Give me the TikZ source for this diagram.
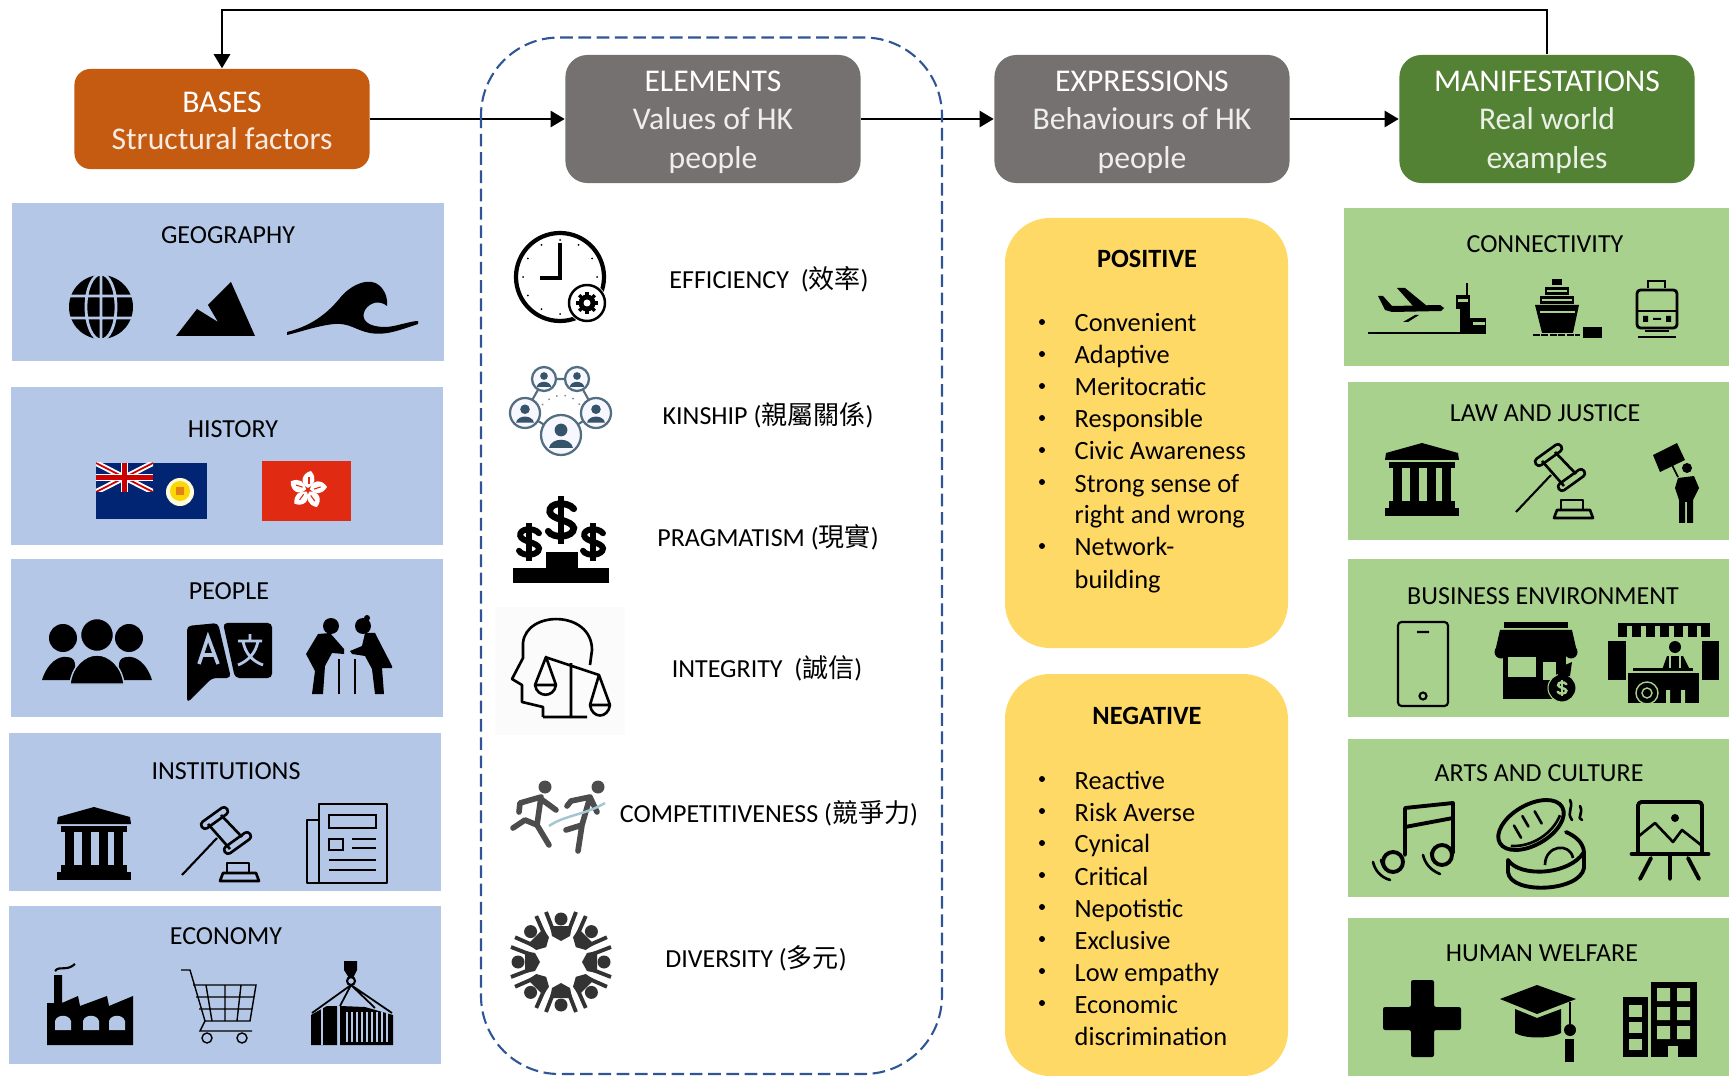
\documentclass[tikz,border=0pt]{standalone}
\usepackage{fontspec}
\setmainfont{Carlito}
\newfontfamily\cjk{Noto Sans CJK TC}
\usetikzlibrary{arrows.meta}
\definecolor{basesorange}{HTML}{C55A11}
\definecolor{headgray}{HTML}{767171}
\definecolor{headgreen}{HTML}{548235}
\definecolor{boxblue}{HTML}{B4C7E7}
\definecolor{boxgreen}{HTML}{A9D18E}
\definecolor{boxyellow}{HTML}{FFD966}
\definecolor{dashblue}{HTML}{2F5597}
\definecolor{kinblue}{HTML}{35546A}
\definecolor{hkred}{HTML}{E02B12}
\definecolor{flagnavy}{HTML}{012572}
\begin{document}
\begin{tikzpicture}[x=0.01cm,y=-0.01cm,>={Triangle[length=4pt,width=4.6pt]}]
\tikzstyle{headbox} = [rounded corners=0.22cm,text=white,align=center,inner sep=0pt,minimum height=1.28cm,minimum width=2.95cm,font=\fontsize{9}{11}\selectfont]
\tikzstyle{connect} = [arrows=->,line width=0.65pt,black]
\tikzstyle{boxlabel} = [inner sep=0pt,font=\fontsize{7.4}{9}\selectfont]
\tikzstyle{itemlabel} = [inner sep=0pt,anchor=base west,font=\fontsize{7.5}{9}\selectfont]
\tikzstyle{toplabel} = [inner sep=0pt,font=\bfseries\fontsize{7.5}{9}\selectfont]
\tikzstyle{thinline} = [line width=0.4pt,black]
\tikzstyle{iconline} = [line width=0.75pt,black,line join=round]
\tikzstyle{thickline} = [line width=1.1pt,black,line join=round,line cap=round]
\useasboundingbox (0,0) rectangle (1729,1076);
\def\bankicon#1#2{
  \begin{scope}[shift={(#1,#2)}]
    \fill (1,10) -- (37,0) -- (73,10) -- (74,17) -- (0,17) -- cycle;
    \fill (4,19) rectangle (70,25);
    \foreach \x in {8,25,42,57}
      \fill (\x,25) rectangle (\x+8.5,58);
    \fill (4,58) rectangle (70,65);
    \fill (0,65) rectangle (74,73);
  \end{scope}}
\def\gavelicon#1#2{
  \begin{scope}[shift={(#1,#2)}]
    \draw[iconline,rounded corners=1pt] (23.3,22.2) -- (48.3,4.2) -- (43.7,-2.2) -- (18.7,15.8) -- cycle;
    \draw[iconline,rounded corners=1pt] (46.3,47.2) -- (71.3,29.2) -- (66.7,22.8) -- (41.7,40.8) -- cycle;
    \draw[iconline] (40,7) -- (61,29) (27,16) -- (49,41);
    \draw[line width=0.6pt] (1,67) -- (36,30);
    \draw[iconline] (39,73) -- (42,65) -- (75,65) -- (78,73) -- cycle;
    \draw[iconline] (46,65) -- (46,55) -- (68,55) -- (68,65);
  \end{scope}}
\def\dollaricon#1#2#3#4#5{
  \begin{scope}[shift={(#1,#2)},scale=#3]
    \draw[line width=#4,#5,line cap=round] (8,-7) .. controls (4,-12) and (-8,-11) .. (-7,-5) .. controls (-6,0) and (7,0) .. (8,5) .. controls (8,11) and (-5,12) .. (-8,7);
    \draw[line width=#4,#5] (0,-15) -- (0,15);
  \end{scope}}
\def\kinperson#1#2#3{
  \draw[line width=0.65pt,kinblue!85,fill=blue!3] (#1,#2) circle (#3);
  \fill[kinblue] (#1,#2-0.25*#3) circle (0.32*#3);
  \fill[kinblue] (#1-0.6*#3,#2+0.65*#3) .. controls (#1-0.5*#3,#2+0.1*#3) and (#1+0.5*#3,#2+0.1*#3) .. (#1+0.6*#3,#2+0.65*#3) -- cycle;
}
\def\firstline{\rule{0pt}{7.7pt}}
  %head boxes
  \node[headbox,fill=basesorange,minimum height=1cm,rounded corners=0.16cm] (bases) at (222,119) {\rule{0pt}{6.9pt}BASES\\[-0.6pt]{\color{white!88!basesorange}Structural factors}};
  \node[headbox,fill=headgray] (elements) at (713,119) {\firstline ELEMENTS\\{\color{white!88!headgray}Values of HK}\\{\color{white!88!headgray}people}};
  \node[headbox,fill=headgray] (expressions) at (1142,119) {\firstline EXPRESSIONS\\{\color{white!88!headgray}Behaviours of HK}\\{\color{white!88!headgray}people}};
  \node[headbox,fill=headgreen] (manifestations) at (1547,119) {\firstline MANIFESTATIONS\\{\color{white!88!headgreen}Real world}\\{\color{white!88!headgreen}examples}};
  %arrows
  \coordinate (looptop) at (222,10);
  \draw[connect] (bases) -- (elements);
  \draw[connect] (elements) -- (expressions);
  \draw[connect] (expressions) -- (manifestations);
  \draw[connect] (manifestations.north) |- (looptop) -- (bases.north);
  %dashed box
  \draw[dashblue,line width=0.6pt,rounded corners=0.78cm,dash pattern={on 3.6pt off 1.6pt}] (481,37.5) rectangle (942,1074);
  %blue boxes
  \fill[boxblue] (12,203) rectangle (444,361);
  \fill[boxblue] (11,387) rectangle (443,545);
  \fill[boxblue] (11,559) rectangle (443,717);
  \fill[boxblue] (9,733) rectangle (441,891);
  \fill[boxblue] (9,906) rectangle (441,1064);
  \node[boxlabel] (geography) at (228,235) {GEOGRAPHY};
  \node[boxlabel] (history) at (233,429) {HISTORY};
  \node[boxlabel] (people) at (229,591) {PEOPLE};
  \node[boxlabel] (institutions) at (226,771) {INSTITUTIONS};
  \node[boxlabel] (economy) at (226,936) {ECONOMY};
  %green boxes
  \fill[boxgreen] (1344,208) rectangle (1729,366);
  \fill[boxgreen] (1348,382) rectangle (1729,540);
  \fill[boxgreen] (1348,559) rectangle (1729,717);
  \fill[boxgreen] (1348,739) rectangle (1729,897);
  \fill[boxgreen] (1348,918) rectangle (1729,1076);
  \node[boxlabel] (connectivity) at (1545,244.5) {CONNECTIVITY};
  \node[boxlabel] (lawjustice) at (1545,413.5) {LAW AND JUSTICE};
  \node[boxlabel] (business) at (1543,596.5) {BUSINESS ENVIRONMENT};
  \node[boxlabel] (arts) at (1539,773.5) {ARTS AND CULTURE};
  \node[boxlabel] (welfare) at (1542,953.5) {HUMAN WELFARE};
  %yellow boxes
  \fill[boxyellow,rounded corners=0.45cm] (1005,218) rectangle (1288,648);
  \fill[boxyellow,rounded corners=0.45cm] (1005,674) rectangle (1288,1076);
  \node[toplabel] (positive) at (1147,259) {POSITIVE};
  \node[toplabel] (negative) at (1147,716) {NEGATIVE};
  \foreach \y/\t in {323/Convenient,355/Adaptive,387/Meritocratic,419/Responsible,451/Civic Awareness,483/Strong sense of,515/right and wrong,547/Network-,579/building}
    \node[itemlabel] (pos\y) at (1074,\y+9) {\t};
  \foreach \y in {323,355,387,419,451,483,547}
    \fill (1042,\y-1) circle (3);
  \foreach \y/\t in {780/Reactive,812/Risk Averse,844/Cynical,876/Critical,908/Nepotistic,940/Exclusive,972/Low empathy,1004/Economic,1036/discrimination}
    \node[itemlabel] (neg\y) at (1074,\y+9) {\t};
  \foreach \y in {780,812,844,876,908,940,972,1004}
    \fill (1042,\y-1) circle (3);
  %element labels
  \node[boxlabel] (efficiency) at (769,279) {EFFICIENCY\ \ ({\cjk 效率})};
  \node[boxlabel] (kinship) at (768,415) {KINSHIP ({\cjk 親屬關係})};
  \node[boxlabel] (pragmatism) at (768,537) {PRAGMATISM ({\cjk 現實})};
  \node[boxlabel] (integrity) at (767,668) {INTEGRITY\ \ ({\cjk 誠信})};
  \node[boxlabel] (competitive) at (769,813) {COMPETITIVENESS ({\cjk 競爭力})};
  \node[boxlabel] (diversity) at (756,958) {DIVERSITY ({\cjk 多元})};
    %globe
    \fill (101,307) circle (32);
    \draw[boxblue,line width=0.8pt] (101,307) ellipse (15 and 33) (101,274) -- (101,340) (68,296) -- (134,296) (68,318) -- (134,318);
    %mountain
    \fill (176,336) -- (197,309) -- (218,322) -- (208,305) -- (231,282) -- (255,336) -- cycle;
    %wave
    \fill (287,332) .. controls (315,325) and (330,310) .. (340,298) .. controls (350,285) and (370,276) .. (380,286) .. controls (386,292) and (388,300) .. (387,306) .. controls (380,300) and (370,302) .. (365,310) .. controls (360,320) and (368,327) .. (385,327) .. controls (395,327) and (410,321) .. (418,321) -- (418,324) .. controls (400,330) and (385,336) .. (370,333) .. controls (355,330) and (350,323) .. (335,324) .. controls (320,325) and (300,332) .. (287,335) -- cycle;
    %colonial flag
    \fill[flagnavy] (96,463) rectangle (207,519);
    \begin{scope}
      \clip (96,463) rectangle (153,492);
      \draw[white,line width=1.6pt] (96,463) -- (153,492) (96,492) -- (153,463);
      \draw[red!80!black,line width=0.5pt] (96,463) -- (153,492) (96,492) -- (153,463);
      \draw[white,line width=2.2pt] (124.5,463) -- (124.5,492) (96,477.5) -- (153,477.5);
      \draw[red!80!black,line width=1.3pt] (124.5,463) -- (124.5,492) (96,477.5) -- (153,477.5);
    \end{scope}
    \fill[white!85!yellow] (180,492) circle (14);
    \fill[yellow!75!orange] (180,491) circle (10);
    \fill[orange!60!brown] (176,487) rectangle (184,495);
    %hong kong flag
    \fill[hkred] (262,461) rectangle (351,521);
    \foreach \a in {0,72,144,216,288} {
      \begin{scope}[shift={(308,490)},rotate=\a]
        \fill[white] (0,-2) .. controls (-9,-7) and (-6,-17) .. (3,-19) .. controls (9,-12) and (7,-6) .. (0,-2);
        \draw[hkred,line width=0.3pt] (1,-6) -- (1,-13);
      \end{scope}
    }
    \begin{scope}[shift={(0,1)}]
    %people group
    \fill (63,637) circle (14);
    \fill (129,637) circle (14);
    \fill (42,679) .. controls (48,660) and (60,655) .. (66,656) .. controls (75,656) and (78,662) .. (72,679) -- cycle;
    \fill (152,679) .. controls (146,660) and (134,655) .. (128,656) .. controls (119,656) and (116,662) .. (122,679) -- cycle;
    \fill[draw=boxblue,line width=0.4pt] (70,683) .. controls (72,665) and (85,654) .. (97,654) .. controls (109,654) and (122,665) .. (124,683) -- cycle;
    \fill[draw=boxblue,line width=0.4pt] (97,634) circle (16.5);
    %translate bubble
    \fill[rounded corners=1.2pt] (187,702) -- (187,625) -- (218,622) -- (231,677) -- (212,677) -- cycle;
    \fill[rounded corners=1.2pt] (223,622) -- (272,622) -- (272,677) -- (235,677) -- cycle;
    \draw[boxblue,line width=1pt] (199,663) -- (208,636) -- (218,663) (203,654) -- (214,654);
    \draw[boxblue,line width=0.8pt] (238,640) -- (262,640) (250,633) -- (250,640) (243,640) .. controls (245,652) and (252,660) .. (263,664) (258,640) .. controls (256,652) and (248,660) .. (238,664);
    %elderly couple
    \fill (331,625) circle (8);
    \fill (363,625) circle (8);
    \fill (367,617) circle (3);
    \fill (318,633) -- (330,632) -- (344,648) -- (344,653) -- (332,652) -- (325,665) -- (323,693) -- (312,693) -- (315,670) -- (306,653) -- cycle;
    \fill (365,632) -- (375,632) -- (392,665) -- (392,667) -- (382,667) -- (384,693) -- (375,693) -- (372,668) -- (365,655) -- (352,653) -- (350,650) -- (362,645) -- cycle;
    \draw[line width=0.5pt] (339,658) -- (339,693) (355,658) -- (355,693);
    \end{scope}
    \begin{scope}[shift={(0,2)}]
    %institutions
    \bankicon{57}{805}
    \gavelicon{181}{806}
    %newspaper
    \draw[line width=0.8pt,line join=round] (319,802) rectangle (387,881);
    \draw[line width=0.7pt,line join=round] (319,818) -- (307,818) -- (307,881) -- (319,881);
    \draw[line width=0.8pt] (329,813) rectangle (376,826) (329,837) rectangle (343,848);
    \draw[line width=0.7pt] (352,837) -- (376,837) (352,846) -- (376,846) (329,858) -- (376,858) (329,868) -- (376,868);
    \end{scope}
    \begin{scope}[shift={(0,3)}]
    %factory
    \fill (47,1042) -- (47,1000) -- (54,1000) -- (54,972) -- (62,972) -- (62,1000) -- (78,993) -- (80,1003) -- (107,993) -- (109,1003) -- (133,993) -- (133,1042) -- cycle;
    \draw[line width=0.6pt] (55,968) .. controls (60,962) and (66,969) .. (75,961);
    \foreach \x in {63,91,117}
      \fill[boxblue] (\x-8,1027) -- (\x-8,1018) .. controls (\x-6,1011) and (\x+6,1011) .. (\x+8,1018) -- (\x+8,1027) -- cycle;
    %cart
    \draw[thinline] (181,967) -- (190,967) -- (205,1018) -- (200,1028) -- (252,1028);
    \draw[thinline] (193,982) -- (256,982) -- (250,1018) -- (205,1018);
    \draw[thinline] (196,994) -- (254,994) (199,1006) -- (252,1006) (206,982) -- (212,1018) (225,982) -- (225,1018) (241,982) -- (237,1018);
    \draw[thinline] (207,1035) circle (5) (242,1035) circle (5);
    %container
    \fill (344,958) -- (357,958) -- (357,967) -- (353,975) -- (349,975) -- (344,967) -- cycle;
    \draw[line width=0.6pt] (351,978) circle (4);
    \draw[line width=0.5pt] (351,982) -- (312,1010) (351,982) -- (392,1010) (351,982) -- (340,1003) (351,982) -- (375,1005);
    \fill (311,1012) -- (327,1003) -- (337,1003) -- (337,1042) -- (311,1042) -- cycle;
    \fill (340,1003) -- (365,1004) -- (393,1012) -- (393,1042) -- (340,1042) -- cycle;
    \draw[boxblue,line width=0.3pt] (322,1005) -- (322,1042);
    \foreach \x in {347,352,...,389}
      \draw[boxblue,line width=0.35pt] (\x,1009) -- (\x,1039);
    \end{scope}
    %plane and tower
    \fill (1378,296) -- (1383,296) -- (1392,306) -- (1440,305) -- (1444,308) -- (1441,311) -- (1392,312) -- (1385,310) -- cycle;
    \fill (1397,288) -- (1405,288) -- (1427,306) -- (1413,306) -- cycle;
    \fill (1403,322) -- (1415,315) -- (1419,315) -- (1408,322) -- cycle;
    \draw[line width=0.5pt] (1368,333) -- (1460,333) (1467,283) -- (1467,296);
    \fill (1456,295) rectangle (1470,309);
    \fill (1460,309) rectangle (1470,318);
    \fill (1460,318) rectangle (1486,334);
    \fill[boxgreen] (1473,322) rectangle (1485,325);
    \fill[boxgreen] (1458,299) rectangle (1468,302);
    %ship
    \fill (1552,279) rectangle (1562,285);
    \fill (1545,287) rectangle (1569,295);
    \fill (1540,296) rectangle (1574,304);
    \fill (1535,305) -- (1579,305) -- (1573,333) -- (1542,333) -- cycle;
    \draw[boxgreen,line width=0.3pt] (1540,312) -- (1575,312) (1547,291) -- (1567,291) (1542,300) -- (1572,300);
    \draw[line width=0.8pt,dash pattern={on 2pt off 0.4pt}] (1533,335) -- (1580,335);
    \fill (1583,327) rectangle (1602,338);
    %train
    \draw[line width=0.8pt,rounded corners=1pt] (1637,290) rectangle (1677,328);
    \draw[line width=0.7pt] (1648,288) -- (1648,281) -- (1665,281) -- (1665,288);
    \draw[line width=0.5pt] (1637,311) -- (1677,311);
    \fill (1643,316) rectangle (1648,322) (1666,316) rectangle (1671,322) (1653,318) rectangle (1661,320);
    \draw[line width=0.7pt] (1645,331) -- (1669,331) (1638,337) -- (1676,337);
    %law and justice
    \bankicon{1385}{443}
    \gavelicon{1515}{445}
    %protester
    \fill (1653,455) -- (1677,443) -- (1685,460) -- (1660,472) -- cycle;
    \draw[line width=0.5pt] (1672,465) -- (1678,477);
    \fill (1687,468) circle (5);
    \fill (1678,478) -- (1694,476) -- (1699,488) -- (1693,500) -- (1693,523) -- (1687,523) -- (1687,502) -- (1685,502) -- (1685,523) -- (1679,523) -- (1679,500) -- (1675,488) -- cycle;
    %phone
    \draw[line width=0.6pt,rounded corners=1pt] (1398,622) rectangle (1448,706);
    \draw[line width=0.6pt] (1417,632) -- (1429,632) (1423,696) circle (3.5);
    %shop
    \fill (1504,622) rectangle (1568,628);
    \fill (1500,630) -- (1572,630) -- (1577,652) -- (1495,652) -- cycle;
    \foreach \x in {1501,1513,1525,1537,1549,1561,1571}
      \fill (\x,652) circle (6.5);
    \fill (1503,655) rectangle (1566,699);
    \fill[boxgreen] (1508,657) rectangle (1536,677);
    \fill[boxgreen] (1543,662) rectangle (1556,680);
    \fill[draw=boxgreen,line width=0.3pt] (1562,688) circle (14);
    \fill (1558,676) -- (1558,668) -- (1572,662) -- (1570,676) -- cycle;
    \dollaricon{1562}{688}{0.55}{0.7pt}{boxgreen}
    %stall
    \foreach \x in {1618,1632,1646,1660,1674,1688,1701}
      \fill (\x,623) rectangle (\x+9,637);
    \fill (1618,623) rectangle (1710,626);
    \fill (1608,641) rectangle (1626,680);
    \fill (1702,641) rectangle (1719,680);
    \fill (1675,647) circle (6);
    \fill (1662,670) -- (1667,656) -- (1683,656) -- (1690,670) -- cycle;
    \draw[boxgreen,line width=0.4pt] (1670,656) -- (1670,670) (1680,656) -- (1680,670);
    \fill (1633,668) rectangle (1693,671);
    \fill (1628,673) rectangle (1699,703);
    \fill[boxgreen] (1666,690) rectangle (1670,703) (1681,690) rectangle (1685,703);
    \fill[draw=boxgreen,line width=0.4pt] (1647,693) circle (11);
    \draw[boxgreen,line width=0.4pt] (1647,693) circle (5);
    %music
    \draw[thickline] (1405,855) -- (1405,808) -- (1453,803) -- (1453,853) (1405,827) -- (1453,818);
    \draw[thickline] (1393,862) circle (10) (1442,855) circle (10);
    \draw[iconline,line cap=round] (1373,862) .. controls (1375,870) and (1380,877) .. (1390,880) (1381,860) .. controls (1382,865) and (1385,870) .. (1390,872);
    \draw[iconline,line cap=round] (1423,855) .. controls (1425,863) and (1430,870) .. (1440,874) (1431,853) .. controls (1432,858) and (1435,863) .. (1440,865);
    %dim sum basket
    \draw[thickline] (1508,860) -- (1508,872) .. controls (1510,895) and (1580,892) .. (1584,868) -- (1584,852);
    \draw[thickline] (1508,860) .. controls (1520,878) and (1570,875) .. (1584,852) .. controls (1583,842) and (1575,836) .. (1566,832);
    \draw[iconline] (1545,865) .. controls (1545,845) and (1570,842) .. (1573,858);
    \begin{scope}[shift={(1531,825)},rotate=30]
      \draw[thickline] (0,0) ellipse (36 and 20);
      \draw[iconline] (-28,8) .. controls (-10,20) and (15,18) .. (30,6);
      \draw[iconline,line cap=round] (-15,-8) -- (-15,6) (-3,-12) -- (-3,0) (10,-10) -- (10,4);
    \end{scope}
    \draw[iconline,line cap=round] (1570,800) .. controls (1574,808) and (1566,812) .. (1572,820) (1580,806) .. controls (1584,814) and (1576,818) .. (1582,820);
    %easel
    \draw[thickline,rounded corners=1pt] (1638,852) -- (1638,802) -- (1702,802) -- (1702,852);
    \draw[line width=1.4pt,line cap=round] (1632,854) -- (1708,854);
    \draw[thickline] (1670,856) -- (1670,879) (1651,858) -- (1640,879) (1688,858) -- (1699,879);
    \draw[iconline] (1639,836) -- (1655,823) -- (1673,842) -- (1682,830) -- (1701,845);
    \fill (1675,818) circle (4);
    %cross
    \fill[rounded corners=0.6pt] (1411,980) -- (1434,980) -- (1434,1007) -- (1461,1007) -- (1461,1030) -- (1434,1030) -- (1434,1057) -- (1411,1057) -- (1411,1030) -- (1383,1030) -- (1383,1007) -- (1411,1007) -- cycle;
    %graduation cap
    \fill (1500,999) -- (1537,985) -- (1576,999) -- (1537,1014) -- cycle;
    \fill (1515,1009) -- (1537,1018) -- (1561,1009) -- (1561,1033) .. controls (1550,1039) and (1525,1039) .. (1515,1033) -- cycle;
    \draw[line width=0.5pt] (1570,1002) -- (1570,1028);
    \fill (1570,1030) circle (6);
    \fill (1565,1039) rectangle (1574,1062);
    %buildings
    \fill (1623,997) rectangle (1648,1057);
    \fill (1651,982) rectangle (1697,1057);
    \foreach \y/\h in {1005/12,1022/11,1039/11}
      \fill[boxgreen] (1629,\y) rectangle (1642,\y+\h);
    \foreach \y in {988,1007,1026}
      \fill[boxgreen] (1657,\y) rectangle (1670,\y+13) (1677,\y) rectangle (1690,\y+13);
    \fill[boxgreen] (1668,1046) rectangle (1678,1057);
    %clock
    \draw[line width=1.2pt] (560,277) circle (44);
    \foreach \a in {0,30,...,330}
      \fill ([shift={(560,277)}]\a:37) circle (1);
    \draw[line width=0.9pt] (560,243) -- (560,278) -- (540,278);
    \fill[white] (587,303) circle (20);
    \draw[line width=0.7pt] (587,303) circle (18);
    \foreach \a in {0,45,...,315}
      \draw[line width=1pt] (587,303) -- ++(\a:11);
    \fill (587,303) circle (8.5);
    \fill[white] (587,303) circle (3.5);
    %kinship
    \draw[kinblue!85,line width=0.6pt] (544,379) -- (577,379) (525,413) -- (544,379) (596,413) -- (577,379) (525,413) -- (561,435) (596,413) -- (561,435);
    \draw[kinblue!70,line width=0.4pt,dotted] (542,405) .. controls (555,392) and (570,392) .. (580,405);
    \kinperson{544}{379}{12}
    \kinperson{577}{379}{12}
    \kinperson{525}{413}{15}
    \kinperson{596}{413}{15}
    \kinperson{561}{435}{20}
    %pragmatism
    \dollaricon{561}{520}{1.6}{1.9pt}{black}
    \dollaricon{529}{542}{1.25}{1.7pt}{black}
    \dollaricon{593}{542}{1.25}{1.7pt}{black}
    \fill (546,552) rectangle (578,568);
    \fill (513,568) rectangle (609,583);
    %integrity
    \fill[black!1.5] (495,607) rectangle (625,735);
    \draw[iconline] (543,717) -- (543,707) -- (522,702) -- (522,685) -- (512,679) -- (523,658) -- (523,643) .. controls (526,610) and (592,610) .. (592,650) -- (590,665);
    \draw[iconline] (543,717) -- (587,717) (571,663) -- (571,717) (545,657) -- (599,675);
    \draw[iconline] (535,685) -- (546,657) -- (556,685) -- cycle (535,685) .. controls (537,698) and (554,698) .. (556,685);
    \draw[iconline] (590,705) -- (599,675) -- (610,705) -- cycle (590,705) .. controls (592,719) and (608,719) .. (610,705);
    %runners
    \fill[black!70] (545,787) circle (6.5) (598,787) circle (6.5);
    \draw[black!70,line width=1.6pt,line cap=round,line join=round] (541,797) -- (537,825) -- (549,845) (541,797) -- (520,803) -- (519,812) (541,799) -- (556,810) (537,825) -- (525,820) -- (513,828);
    \draw[black!70,line width=1.6pt,line cap=round,line join=round] (590,797) -- (582,825) -- (578,851) (590,797) -- (571,801) -- (567,806) (590,797) -- (597,812) (582,825) -- (566,830);
    \draw[cyan!40!gray!60,line width=0.7pt] (549,826) .. controls (565,815) and (585,815) .. (605,803);
    %diversity
    \foreach \a in {0,45,...,315} {
      \begin{scope}[shift={(561,962)},rotate=\a]
        \fill[black!80] (0,-43) circle (6.5);
        \fill[black!80] (-11,-36) -- (11,-36) -- (9,-26) -- (0,-21) -- (-9,-26) -- cycle;
        \draw[black!80,line width=1.1pt] (-8,-32) -- (-15,-50) (8,-32) -- (15,-50);
      \end{scope}
    }
 \end{tikzpicture}
\end{document}
